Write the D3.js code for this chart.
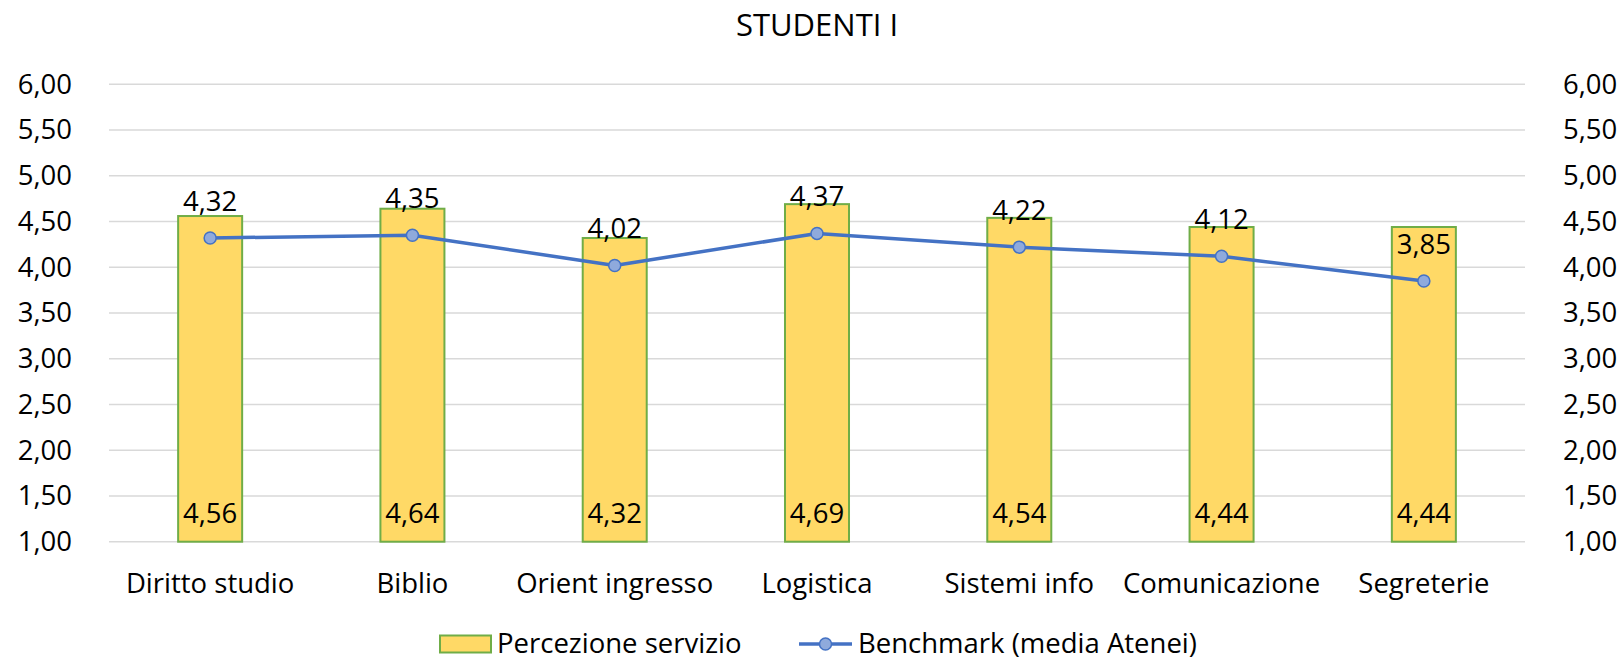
<!DOCTYPE html>
<html>
<head>
<meta charset="utf-8">
<script src="https://cdn.jsdelivr.net/npm/d3@7"></script>
<style>
  html, body { margin: 0; padding: 0; background: #fff; }
  svg { display: block; font-family: 'Open Sans', 'Noto Sans', sans-serif; }
</style>
</head>
<body>
<svg id="chart" width="1621" height="660"></svg>
<script>
const title = "STUDENTI I";
const categories = ["Diritto studio", "Biblio", "Orient ingresso", "Logistica", "Sistemi info", "Comunicazione", "Segreterie"];
const percezione = [4.56, 4.64, 4.32, 4.69, 4.54, 4.44, 4.44];
const benchmark = [4.32, 4.35, 4.02, 4.37, 4.22, 4.12, 3.85];
const yTicks = [1.00, 1.50, 2.00, 2.50, 3.00, 3.50, 4.00, 4.50, 5.00, 5.50, 6.00];
const seriesNames = ["Percezione servizio", "Benchmark (media Atenei)"];

const fmt = v => v.toFixed(2).replace(".", ",");

const svg = d3.select("#chart");
const plotL = 109, plotR = 1525, plotT = 84.3, plotB = 541.7;

const x = d3.scaleBand().domain(categories).range([plotL, plotR]).padding(0);
const y = d3.scaleLinear().domain([1, 6]).range([plotB, plotT]);
const barW = x.bandwidth() / 3.16;
const fs = 27.5;

// title
svg.append("text")
  .attr("x", (plotL + plotR) / 2).attr("y", 36)
  .attr("text-anchor", "middle")
  .style("font-size", "31px").attr("fill", "#000")
  .text(title);

// gridlines
svg.append("g").selectAll("line").data(yTicks).join("line")
  .attr("x1", plotL).attr("x2", plotR)
  .attr("y1", d => y(d)).attr("y2", d => y(d))
  .attr("stroke", "#D9D9D9").attr("stroke-width", 1.5);

// left axis
const yAxisL = d3.axisLeft(y).tickValues(yTicks).tickFormat(fmt).tickSize(0).tickPadding(0);
const gL = svg.append("g").attr("transform", `translate(72,0)`).call(yAxisL);
gL.select(".domain").remove();
gL.selectAll("text").style("font-size", fs + "px").style("font-family", "'Open Sans', sans-serif").attr("fill", "#000");

// right axis
const yAxisR = d3.axisRight(y).tickValues(yTicks).tickFormat(fmt).tickSize(0).tickPadding(0);
const gR = svg.append("g").attr("transform", `translate(1563,0)`).call(yAxisR);
gR.select(".domain").remove();
gR.selectAll("text").style("font-size", fs + "px").style("font-family", "'Open Sans', sans-serif").attr("fill", "#000");

// bars
svg.append("g").selectAll("rect").data(percezione).join("rect")
  .attr("x", (d, i) => x(categories[i]) + x.bandwidth() / 2 - barW / 2)
  .attr("y", d => y(d))
  .attr("width", barW)
  .attr("height", d => y(1) - y(d))
  .attr("fill", "#FFD966")
  .attr("stroke", "#70AD47").attr("stroke-width", 2);

// bar labels (inside base)
svg.append("g").selectAll("text").data(percezione).join("text")
  .attr("x", (d, i) => x(categories[i]) + x.bandwidth() / 2)
  .attr("y", y(1) - 19)
  .attr("text-anchor", "middle")
  .style("font-size", fs + "px").attr("fill", "#000")
  .text(fmt);

// line
const cx = i => x(categories[i]) + x.bandwidth() / 2;
const line = d3.line().x((d, i) => cx(i)).y(d => y(d));
svg.append("path").datum(benchmark)
  .attr("d", line).attr("fill", "none")
  .attr("stroke", "#4472C4").attr("stroke-width", 3.5)
  .attr("stroke-linejoin", "round");

svg.append("g").selectAll("circle").data(benchmark).join("circle")
  .attr("cx", (d, i) => cx(i)).attr("cy", d => y(d)).attr("r", 6)
  .attr("fill", "#8FAADC").attr("stroke", "#4472C4").attr("stroke-width", 1.5);

svg.append("g").selectAll("text").data(benchmark).join("text")
  .attr("x", (d, i) => cx(i)).attr("y", d => y(d) - 27)
  .attr("text-anchor", "middle")
  .style("font-size", fs + "px").attr("fill", "#000")
  .text(fmt);

// category labels
svg.append("g").selectAll("text").data(categories).join("text")
  .attr("x", d => x(d) + x.bandwidth() / 2).attr("y", 593)
  .attr("text-anchor", "middle")
  .style("font-size", fs + "px").attr("fill", "#000")
  .text(d => d);

// legend
const lg = svg.append("g");
const legY = 644;
lg.append("rect").attr("x", 440).attr("y", legY - 8.5).attr("width", 51).attr("height", 17)
  .attr("fill", "#FFD966").attr("stroke", "#70AD47").attr("stroke-width", 2);
lg.append("text").attr("x", 497).attr("y", legY + 9)
  .style("font-size", fs + "px").attr("fill", "#000").text(seriesNames[0]);
lg.append("line").attr("x1", 799).attr("x2", 852).attr("y1", legY).attr("y2", legY)
  .attr("stroke", "#4472C4").attr("stroke-width", 3.5);
lg.append("circle").attr("cx", 825.5).attr("cy", legY).attr("r", 6)
  .attr("fill", "#8FAADC").attr("stroke", "#4472C4").attr("stroke-width", 1.5);
lg.append("text").attr("x", 858).attr("y", legY + 9)
  .style("font-size", fs + "px").attr("fill", "#000").text(seriesNames[1]);
</script>
</body>
</html>
